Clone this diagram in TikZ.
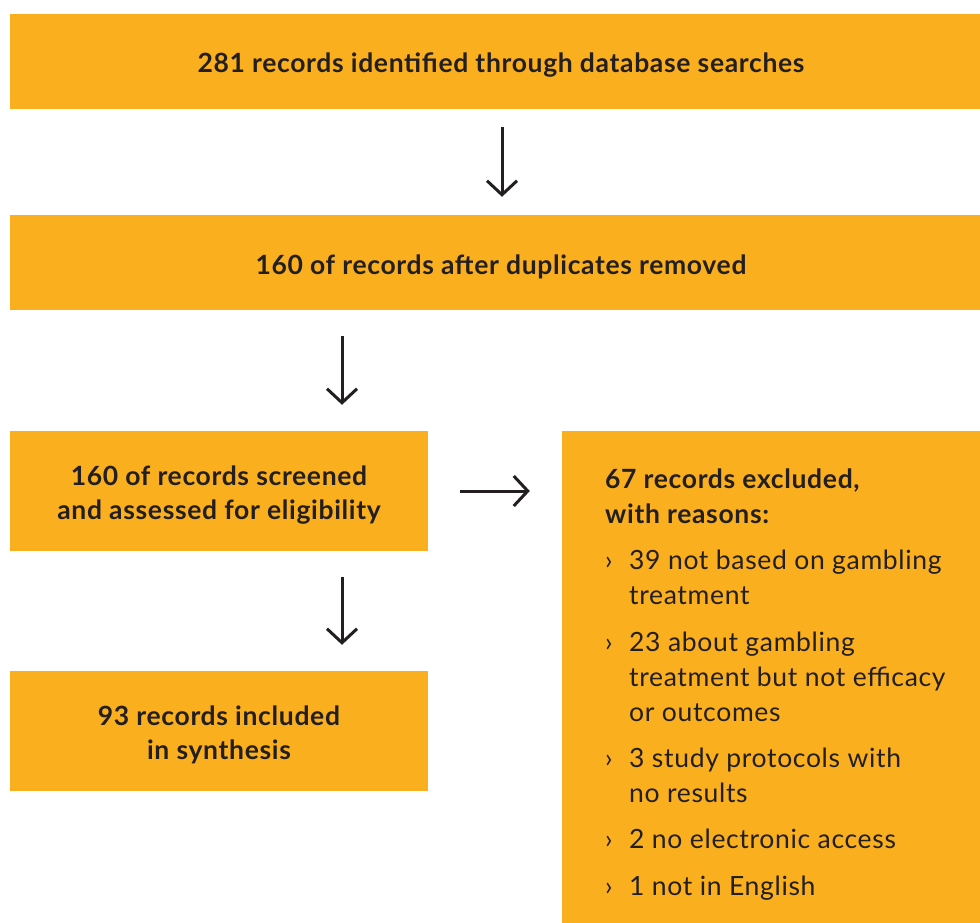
\documentclass[tikz,border=0pt]{standalone}
\usepackage{fontspec}
\setmainfont{Lato}[LetterSpace=2.5]
\usetikzlibrary{arrows.meta}
\definecolor{boxfill}{HTML}{FAAF1E}
\definecolor{ink}{HTML}{231F20}
\tikzset{
  box/.style={fill=boxfill, draw=none, inner sep=0pt},
  boxtxt/.style={inner sep=0pt, text=ink, align=center,
    font=\fontsize{26.5}{34}\selectfont\bfseries},
  flowarrow/.style={draw=ink, line width=3pt, -{Straight Barb[length=14pt,width=30pt,line width=3pt]}},
  itemtxt/.style={anchor=base west, inner sep=0pt, text=ink, font=\fontsize{26.5}{35}\selectfont},
  headtxt/.style={anchor=base west, inner sep=0pt, text=ink, font=\fontsize{26.5}{35}\selectfont\bfseries},
}
\begin{document}
\begin{tikzpicture}[x=1pt,y=-1pt]
\useasboundingbox (0,0) rectangle (980,923);
\node[box, minimum width=970pt, minimum height=95pt] (b1) at (495,61.5) {};
\node[box, minimum width=970pt, minimum height=95pt] (b2) at (495,262.5) {};
\node[box, minimum width=418pt, minimum height=120pt] (b3) at (219,491) {};
\node[box, minimum width=418pt, minimum height=120pt] (b5) at (219,731) {};
\node[box, minimum width=418pt, minimum height=492pt] (b4) at (771,677) {};
\node[boxtxt] (b1t) at ([xshift=6pt,yshift=-4pt]b1.center) {281 records identified through database searches};
\node[boxtxt] (b2t) at ([xshift=6pt,yshift=-4pt]b2.center) {160 of records after duplicates removed};
\node[boxtxt] (b3t) at ([yshift=-4pt]b3.center) {160 of records screened\\and assessed for eligibility};
\node[boxtxt] (b5t) at ([yshift=-4pt]b5.center) {93 records included\\in synthesis};
\coordinate (a1) at (502,0);
\coordinate (a2) at (342,0);
\draw[flowarrow, shorten <=18pt, shorten >=18pt] (b1.south -| a1) -- (b2.north -| a1);
\draw[flowarrow, shorten <=26pt, shorten >=26pt] (b2.south -| a2) -- (b3.north -| a2);
\draw[flowarrow, shorten <=26pt, shorten >=26pt] (b3.south -| a2) -- (b5.north -| a2);
\draw[flowarrow, shorten <=32pt, shorten >=32pt] (b3.east) -- (b3.east -| b4.west);
% right box text
\node[headtxt] (h1) at (605,488) {67 records excluded,};
\node[headtxt] (h2) at (605,523) {with reasons:};
\foreach \y/\t [count=\i] in {
  569/39 not based on gambling, 604/treatment,
  651/23 about gambling, 686/treatment but not efficacy, 721/or outcomes,
  767/3 study protocols with, 802/no results,
  848/2 no electronic access,
  895/1 not in English}{
  \node[itemtxt] (t\i) at (629,\y) {\t};
}
\foreach \y [count=\i] in {569,651,767,848,895}{
  \node[itemtxt] (m\i) at (605,\y) {›};
}
\end{tikzpicture}
\end{document}
